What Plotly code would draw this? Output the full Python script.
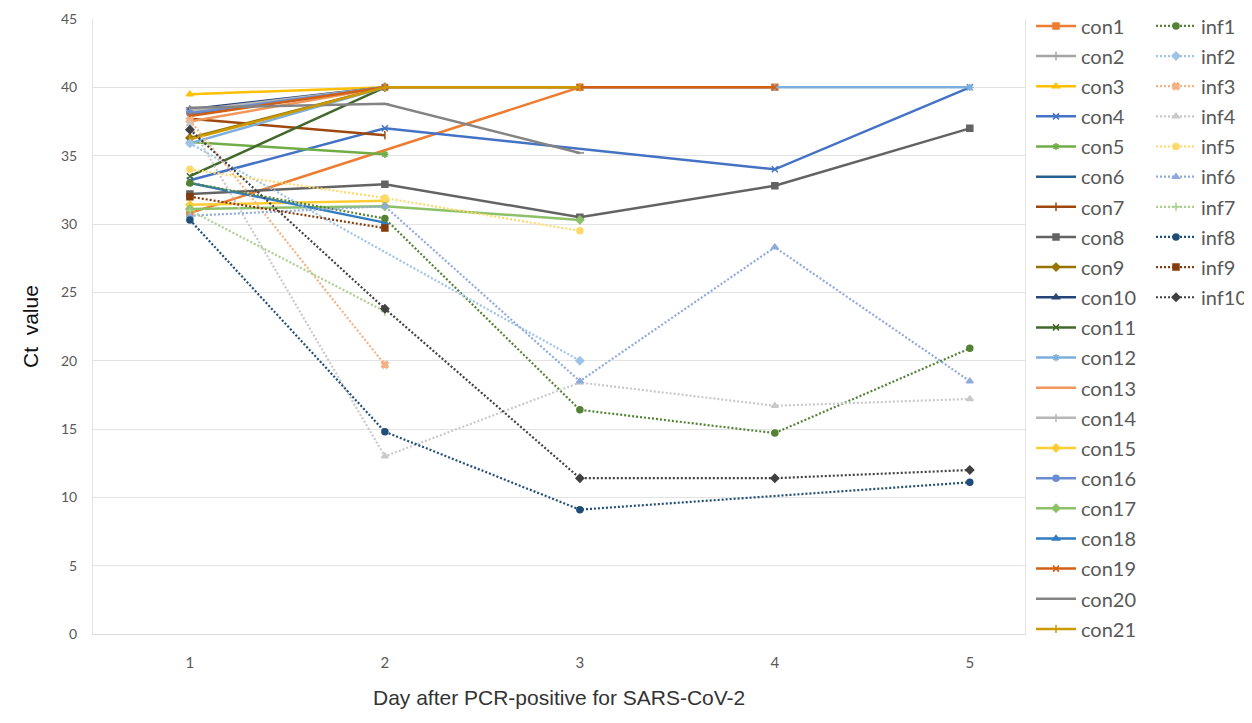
import plotly.graph_objects as go

days = [1, 2, 3, 4, 5]
y_ticks = [0, 5, 10, 15, 20, 25, 30, 35, 40, 45]

# control series (None = no reading that day)
con1 = [30.8, None, 40.0, 40.0, None]
con2 = [38.2, 40.0, None, None, None]
con3 = [39.5, 40.0, None, None, None]
con4 = [33.2, 37.0, None, 34.0, 40.0]
con5 = [36.0, 35.1, None, None, None]
con6 = [38.0, 40.0, None, None, None]
con7 = [37.7, 36.5, None, None, None]
con8 = [32.2, 32.9, 30.5, 32.8, 37.0]
con9 = [36.3, 40.0, None, None, None]
con10 = [38.4, 40.0, None, None, None]
con11 = [33.5, 40.0, None, None, None]
con12 = [35.9, 40.0, 40.0, 40.0, 40.0]
con13 = [37.5, 40.0, None, None, None]
con14 = [38.3, 40.0, None, None, None]
con15 = [31.4, 31.7, None, None, None]
con16 = [38.1, 40.0, None, None, None]
con17 = [31.1, 31.3, 30.3, None, None]
con18 = [33.0, 30.1, None, None, None]
con19 = [37.9, 40.0, 40.0, 40.0, None]
con20 = [38.5, 38.8, 35.2, None, None]
con21 = [36.2, 40.0, 40.0, None, None]

# infected series
inf1 = [33.0, 30.4, 16.4, 14.7, 20.9]
inf2 = [35.9, None, 20.0, None, None]
inf3 = [37.6, 19.7, None, None, None]
inf4 = [37.3, 13.0, 18.4, 16.7, 17.2]
inf5 = [34.0, 31.9, 29.5, None, None]
inf6 = [30.6, 31.3, 18.5, 28.3, 18.5]
inf7 = [31.0, 23.6, None, None, None]
inf8 = [30.3, 14.8, 9.1, None, 11.1]
inf9 = [32.0, 29.7, None, None, None]
inf10 = [36.9, 23.8, 11.4, 11.4, 12.0]

con_names = [f"con{i}" for i in range(1, 22)]
con_values = [con1, con2, con3, con4, con5, con6, con7, con8, con9, con10, con11,
              con12, con13, con14, con15, con16, con17, con18, con19, con20, con21]
inf_names = [f"inf{i}" for i in range(1, 11)]
inf_values = [inf1, inf2, inf3, inf4, inf5, inf6, inf7, inf8, inf9, inf10]

con_colors = ["#ED7D31", "#A5A5A5", "#FFC000", "#4472C4", "#70AD47", "#255E91",
              "#9E480E", "#636363", "#997300", "#264478", "#43682B", "#7CAFDD",
              "#F1975A", "#B7B7B7", "#FFCD33", "#698ED0", "#8CC168", "#327DC2",
              "#D26012", "#848484", "#CC9A00"]
con_symbols = ["square", "cross-thin", "triangle-up", "x-thin", "asterisk", None,
               "line-ns", "square", "diamond", "triangle-up", "x-thin", "asterisk",
               "line-ew", "cross-thin", "diamond", "circle", "diamond", "triangle-up",
               "x-thin", "line-ew", "line-ns"]
inf_colors = ["#548235", "#9DC3E6", "#F4B183", "#C9C9C9", "#FFD966", "#8FAADC",
              "#A9D18E", "#1F4E79", "#843C0C", "#404040"]
inf_symbols = ["circle", "diamond", "x", "triangle-up", "circle", "triangle-up",
               "cross-thin", "circle", "square", "diamond"]

# figure is placed 8px in from the page corner (default body margin)
W, H = 1244, 715
L, R, T, B = 85, 227, 11, 89
PW, PH = W - L - R, H - T - B          # plot area in px
OFF = 8


def px_x(sx):  # screen x -> paper x
    return (sx - OFF - L) / PW


def px_y(sy):  # screen y -> paper y
    return 1 - (sy - OFF - T) / PH


fig = go.Figure()

for i, (name, vals, col, sym) in enumerate(zip(con_names, con_values, con_colors, con_symbols)):
    marker = dict(color=col, size=6, line=dict(color=col, width=1.5))
    if sym:
        marker["symbol"] = sym
    fig.add_trace(go.Scatter(
        x=days, y=vals, name=name, mode="lines+markers" if sym else "lines",
        connectgaps=True, line=dict(color=col, width=2.5),
        marker=marker, legend="legend" if i < 11 else "legend3", legendgroup=name))

for name, vals, col, sym in zip(inf_names, inf_values, inf_colors, inf_symbols):
    fig.add_trace(go.Scatter(
        x=days, y=vals, name=name, mode="lines+markers", connectgaps=True,
        line=dict(color=col, width=2.2, dash="2px,2px"),
        marker=dict(color=col, size=6, symbol=sym, line=dict(color=col, width=1.5)),
        legend="legend2", legendgroup=name))

LEG_FONT = dict(size=20, color="#595959", family="Lato")
GAP = 1.15
leg_common = dict(xanchor="left", yanchor="top", font=LEG_FONT, tracegroupgap=GAP,
                  itemwidth=40, bgcolor="rgba(0,0,0,0)")
first_center = 28
pitch = 30.15
top_off = 21.6

fig.update_layout(
    width=W, height=H,
    margin=dict(l=L, r=R, t=T, b=B, autoexpand=False),
    paper_bgcolor="white", plot_bgcolor="white",
    font=dict(family="Lato, Open Sans, sans-serif", color="#595959"),
    showlegend=True,
    legend=dict(x=px_x(1031), y=px_y(first_center - top_off), **leg_common),
    legend3=dict(x=px_x(1031), y=px_y(first_center + 11 * pitch - top_off), **leg_common),
    legend2=dict(x=px_x(1151), y=px_y(first_center - top_off), **leg_common),
    xaxis=dict(range=[0.503, 5.283], tickvals=days, ticktext=[str(d) for d in days],
               showgrid=False, zeroline=False, showline=True, linecolor="#D9D9D9",
               linewidth=1, ticks="outside", ticklen=15, tickcolor="rgba(0,0,0,0)",
               tickfont=dict(size=15, color="#595959")),
    yaxis=dict(range=[0, 45], tickvals=y_ticks, showgrid=True, gridcolor="#E3E3E3",
               gridwidth=1, zeroline=False, showline=True, linecolor="#E3E3E3",
               mirror=True, ticks="outside", ticklen=12, tickcolor="rgba(0,0,0,0)",
               tickfont=dict(size=14, color="#595959")),
    annotations=[
        dict(text="Ct  value", x=px_x(30), y=px_y(326), xref="paper", yref="paper",
             xanchor="center", yanchor="middle",
             showarrow=False, textangle=-90,
             font=dict(family="Liberation Sans, Arial", size=21, color="#111111")),
        dict(text="Day after PCR-positive for SARS-CoV-2", x=px_x(559), y=px_y(697),
             xref="paper", yref="paper", xanchor="center", yanchor="middle",
             showarrow=False,
             font=dict(family="Liberation Sans, Arial", size=21, color="#333333")),
    ],
)

fig.write_html("out.html")
